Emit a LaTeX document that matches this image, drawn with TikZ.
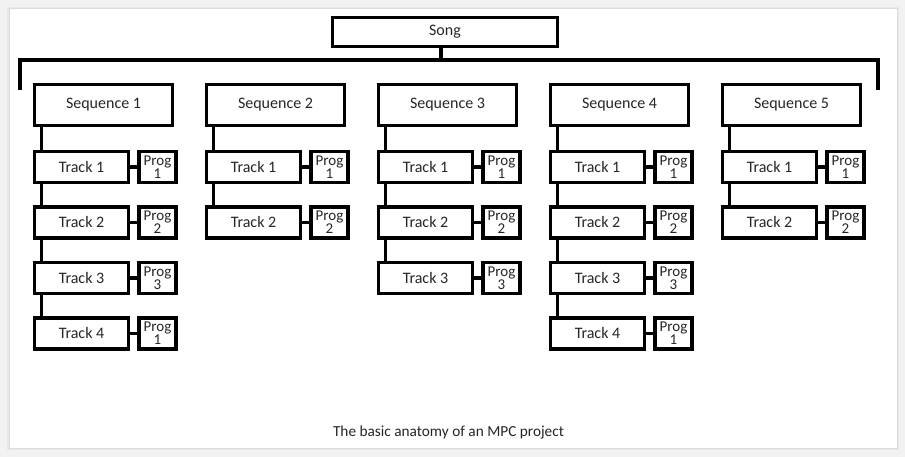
\documentclass[tikz,border=0pt]{standalone}
\usepackage{fontspec}
\setmainfont{Carlito}
\begin{document}
\begin{tikzpicture}[x=1pt,y=-1pt,
  every node/.style={font=\fontsize{16}{13}\selectfont, text=black!85},
  box/.style={draw=black, line width=3.2pt, fill=white, inner sep=0pt},
  seqbox/.style={box, minimum width=138pt, minimum height=41pt},
  trackbox/.style={box, minimum width=94pt, minimum height=31pt},
  progbox/.style={box, minimum width=37pt, minimum height=31pt, align=center, font=\fontsize{15}{12.8}\selectfont},
  songbox/.style={box, minimum width=225pt, minimum height=29pt},
  captext/.style={font=\fontsize{15.3}{18}\selectfont},
  conn/.style={draw=black, line width=3.2pt}]
\useasboundingbox (0,0) rectangle (905,457);
\fill[black!5] (0,0) rectangle (905,457);
\fill[black!9] (7,7) rectangle (899,450);
\fill[black!14] (8.5,8) rectangle (898,449);
\fill[white] (10,9.5) rectangle (897,448);
\node[songbox] (song) at (445,32) {Song};
\coordinate (bl) at (20,90);
\coordinate (br) at (878,90);
\coordinate (bm) at (441,60);
\draw[conn] (bl) |- (br |- bm) -- (br);
\draw[conn] (song.south -| bm) -- (bm);
\foreach \i/\progs in {1/{1,2,3,1},2/{1,2},3/{1,2,3},4/{1,2,3,1},5/{1,2}}{
  \pgfmathsetmacro\sx{33+172*(\i-1)}
  \node[seqbox] (s\i) at (\sx+70.5,105) {Sequence \i};
  \foreach \p [count=\j] in \progs {
    \pgfmathsetmacro\ty{167+55.5*(\j-1)}
    \node[trackbox] (t\i-\j) at (\sx+48.5,\ty) {Track \j};
    \node[progbox] (p\i-\j) at (\sx+124.5,\ty) {Prog\\\p};
    \draw[conn] (t\i-\j) -- (p\i-\j);
    \ifnum\j=1
      \draw[conn] ([xshift=8.5pt]s\i.south west) -- ([xshift=8.5pt]t\i-\j.north west);
    \else
      \pgfmathtruncatemacro\prev{\j-1}
      \draw[conn] ([xshift=8.5pt]t\i-\prev.south west) -- ([xshift=8.5pt]t\i-\j.north west);
    \fi
  }
}
\node[captext] (cap) at (448.5,432) {The basic anatomy of an MPC project};
\end{tikzpicture}
\end{document}
